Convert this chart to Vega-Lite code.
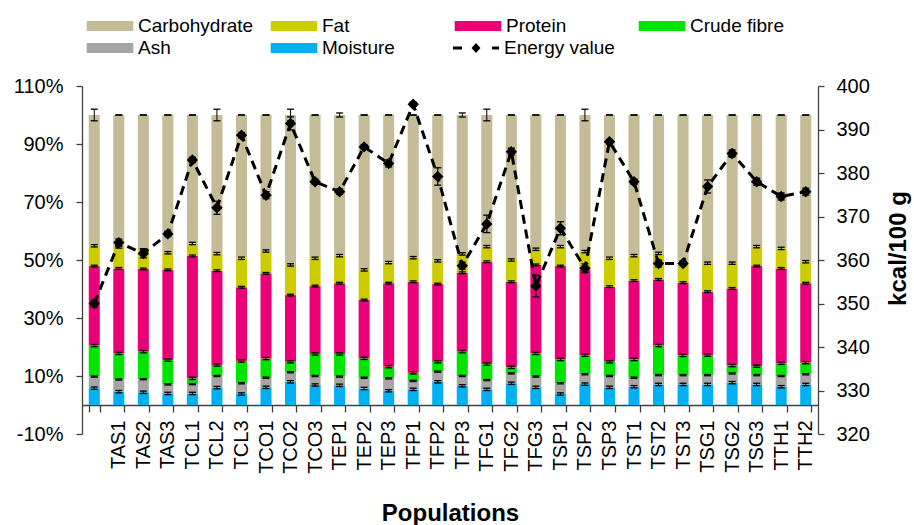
{
  "$schema": "https://vega.github.io/schema/vega-lite/v6.json",
  "width": 736,
  "height": 348,
  "autosize": {"type": "none"},
  "padding": {"left": 82, "top": 86, "right": 96, "bottom": 91},
  "background": "white",
  "config": {
    "font": "Liberation Sans",
    "view": {"stroke": null},
    "axis": {"grid": false, "domainColor": "#404040", "tickColor": "#404040", "labelColor": "#000000", "titleColor": "#000000", "domainWidth": 1.3, "tickWidth": 1.3, "labelFont": "Liberation Sans", "titleFont": "Liberation Sans"},
    "legend": {"labelFont": "Liberation Sans", "labelColor": "#000000"}
  },
  "datasets": {
    "comp": [
      {"p":"","c":"Moisture","v":5.8,"e":0.4},{"p":"","c":"Ash","v":4.0,"e":0.2},{"p":"","c":"Crude fibre","v":10.7,"e":0.4},{"p":"","c":"Protein","v":27.4,"e":0.3},{"p":"","c":"Fat","v":7.0,"e":0.4},{"p":"","c":"Carbohydrate","v":45.1,"e":2.0},
      {"p":"TAS1","c":"Moisture","v":4.6,"e":0.4},{"p":"TAS1","c":"Ash","v":4.2,"e":0.2},{"p":"TAS1","c":"Crude fibre","v":9.0,"e":0.4},{"p":"TAS1","c":"Protein","v":29.3,"e":0.3},{"p":"TAS1","c":"Fat","v":7.4,"e":0.4},{"p":"TAS1","c":"Carbohydrate","v":45.5,"e":0},
      {"p":"TAS2","c":"Moisture","v":4.4,"e":0.4},{"p":"TAS2","c":"Ash","v":4.5,"e":0.2},{"p":"TAS2","c":"Crude fibre","v":9.5,"e":0.4},{"p":"TAS2","c":"Protein","v":28.5,"e":0.3},{"p":"TAS2","c":"Fat","v":6.6,"e":0.4},{"p":"TAS2","c":"Carbohydrate","v":46.5,"e":0},
      {"p":"TAS3","c":"Moisture","v":4.0,"e":0.4},{"p":"TAS3","c":"Ash","v":3.1,"e":0.2},{"p":"TAS3","c":"Crude fibre","v":8.4,"e":0.4},{"p":"TAS3","c":"Protein","v":31.1,"e":0.3},{"p":"TAS3","c":"Fat","v":5.9,"e":0.4},{"p":"TAS3","c":"Carbohydrate","v":47.5,"e":0},
      {"p":"TCL1","c":"Moisture","v":4.0,"e":0.4},{"p":"TCL1","c":"Ash","v":3.2,"e":0.2},{"p":"TCL1","c":"Crude fibre","v":2.0,"e":0.4},{"p":"TCL1","c":"Protein","v":42.2,"e":0.3},{"p":"TCL1","c":"Fat","v":4.3,"e":0.4},{"p":"TCL1","c":"Carbohydrate","v":44.3,"e":0},
      {"p":"TCL2","c":"Moisture","v":6.0,"e":0.4},{"p":"TCL2","c":"Ash","v":4.0,"e":0.2},{"p":"TCL2","c":"Crude fibre","v":3.8,"e":0.4},{"p":"TCL2","c":"Protein","v":32.5,"e":0.3},{"p":"TCL2","c":"Fat","v":5.9,"e":0.4},{"p":"TCL2","c":"Carbohydrate","v":47.8,"e":2.0},
      {"p":"TCL3","c":"Moisture","v":3.8,"e":0.4},{"p":"TCL3","c":"Ash","v":3.7,"e":0.2},{"p":"TCL3","c":"Crude fibre","v":7.7,"e":0.4},{"p":"TCL3","c":"Protein","v":25.4,"e":0.3},{"p":"TCL3","c":"Fat","v":10.0,"e":0.4},{"p":"TCL3","c":"Carbohydrate","v":49.4,"e":0},
      {"p":"TCO1","c":"Moisture","v":6.1,"e":0.4},{"p":"TCO1","c":"Ash","v":3.3,"e":0.2},{"p":"TCO1","c":"Crude fibre","v":6.6,"e":0.4},{"p":"TCO1","c":"Protein","v":29.4,"e":0.3},{"p":"TCO1","c":"Fat","v":7.7,"e":0.4},{"p":"TCO1","c":"Carbohydrate","v":46.9,"e":0},
      {"p":"TCO2","c":"Moisture","v":8.0,"e":0.4},{"p":"TCO2","c":"Ash","v":3.3,"e":0.2},{"p":"TCO2","c":"Crude fibre","v":3.6,"e":0.4},{"p":"TCO2","c":"Protein","v":23.0,"e":0.3},{"p":"TCO2","c":"Fat","v":10.4,"e":0.4},{"p":"TCO2","c":"Carbohydrate","v":51.7,"e":2.0},
      {"p":"TCO3","c":"Moisture","v":6.9,"e":0.4},{"p":"TCO3","c":"Ash","v":3.1,"e":0.2},{"p":"TCO3","c":"Crude fibre","v":7.6,"e":0.4},{"p":"TCO3","c":"Protein","v":23.4,"e":0.3},{"p":"TCO3","c":"Fat","v":9.6,"e":0.4},{"p":"TCO3","c":"Carbohydrate","v":49.4,"e":0},
      {"p":"TEP1","c":"Moisture","v":6.8,"e":0.4},{"p":"TEP1","c":"Ash","v":3.0,"e":0.2},{"p":"TEP1","c":"Crude fibre","v":7.8,"e":0.4},{"p":"TEP1","c":"Protein","v":24.4,"e":0.3},{"p":"TEP1","c":"Fat","v":9.5,"e":0.4},{"p":"TEP1","c":"Carbohydrate","v":48.5,"e":0.7},
      {"p":"TEP2","c":"Moisture","v":5.7,"e":0.4},{"p":"TEP2","c":"Ash","v":3.7,"e":0.2},{"p":"TEP2","c":"Crude fibre","v":6.7,"e":0.4},{"p":"TEP2","c":"Protein","v":20.1,"e":0.3},{"p":"TEP2","c":"Fat","v":10.4,"e":0.4},{"p":"TEP2","c":"Carbohydrate","v":53.4,"e":0},
      {"p":"TEP3","c":"Moisture","v":4.9,"e":0.4},{"p":"TEP3","c":"Ash","v":4.3,"e":0.2},{"p":"TEP3","c":"Crude fibre","v":4.0,"e":0.4},{"p":"TEP3","c":"Protein","v":28.8,"e":0.3},{"p":"TEP3","c":"Fat","v":7.1,"e":0.4},{"p":"TEP3","c":"Carbohydrate","v":50.9,"e":0},
      {"p":"TFP1","c":"Moisture","v":5.4,"e":0.4},{"p":"TFP1","c":"Ash","v":2.9,"e":0.2},{"p":"TFP1","c":"Crude fibre","v":2.8,"e":0.4},{"p":"TFP1","c":"Protein","v":31.4,"e":0.3},{"p":"TFP1","c":"Fat","v":8.3,"e":0.4},{"p":"TFP1","c":"Carbohydrate","v":49.2,"e":0},
      {"p":"TFP2","c":"Moisture","v":8.0,"e":0.4},{"p":"TFP2","c":"Ash","v":3.5,"e":0.2},{"p":"TFP2","c":"Crude fibre","v":3.4,"e":0.4},{"p":"TFP2","c":"Protein","v":26.8,"e":0.3},{"p":"TFP2","c":"Fat","v":8.0,"e":0.4},{"p":"TFP2","c":"Carbohydrate","v":50.3,"e":0},
      {"p":"TFP3","c":"Moisture","v":6.6,"e":0.4},{"p":"TFP3","c":"Ash","v":3.4,"e":0.2},{"p":"TFP3","c":"Crude fibre","v":8.4,"e":0.4},{"p":"TFP3","c":"Protein","v":27.2,"e":0.3},{"p":"TFP3","c":"Fat","v":6.5,"e":0.4},{"p":"TFP3","c":"Carbohydrate","v":47.9,"e":0.7},
      {"p":"TFG1","c":"Moisture","v":5.4,"e":0.4},{"p":"TFG1","c":"Ash","v":3.2,"e":0.2},{"p":"TFG1","c":"Crude fibre","v":5.5,"e":0.4},{"p":"TFG1","c":"Protein","v":35.3,"e":0.3},{"p":"TFG1","c":"Fat","v":5.2,"e":0.4},{"p":"TFG1","c":"Carbohydrate","v":45.4,"e":2.0},
      {"p":"TFG2","c":"Moisture","v":7.5,"e":0.4},{"p":"TFG2","c":"Ash","v":3.4,"e":0.2},{"p":"TFG2","c":"Crude fibre","v":2.1,"e":0.4},{"p":"TFG2","c":"Protein","v":29.5,"e":0.3},{"p":"TFG2","c":"Fat","v":7.5,"e":0.4},{"p":"TFG2","c":"Carbohydrate","v":50.0,"e":0},
      {"p":"TFG3","c":"Moisture","v":6.1,"e":0.4},{"p":"TFG3","c":"Ash","v":3.7,"e":0.2},{"p":"TFG3","c":"Crude fibre","v":8.0,"e":0.4},{"p":"TFG3","c":"Protein","v":30.5,"e":0.3},{"p":"TFG3","c":"Fat","v":5.4,"e":0.4},{"p":"TFG3","c":"Carbohydrate","v":46.3,"e":0},
      {"p":"TSP1","c":"Moisture","v":3.8,"e":0.4},{"p":"TSP1","c":"Ash","v":3.7,"e":0.2},{"p":"TSP1","c":"Crude fibre","v":8.2,"e":0.4},{"p":"TSP1","c":"Protein","v":32.2,"e":0.3},{"p":"TSP1","c":"Fat","v":6.7,"e":0.4},{"p":"TSP1","c":"Carbohydrate","v":45.4,"e":0},
      {"p":"TSP2","c":"Moisture","v":7.2,"e":0.4},{"p":"TSP2","c":"Ash","v":3.4,"e":0.2},{"p":"TSP2","c":"Crude fibre","v":6.6,"e":0.4},{"p":"TSP2","c":"Protein","v":29.4,"e":0.3},{"p":"TSP2","c":"Fat","v":6.3,"e":0.4},{"p":"TSP2","c":"Carbohydrate","v":47.1,"e":2.0},
      {"p":"TSP3","c":"Moisture","v":6.1,"e":0.4},{"p":"TSP3","c":"Ash","v":3.9,"e":0.2},{"p":"TSP3","c":"Crude fibre","v":4.9,"e":0.4},{"p":"TSP3","c":"Protein","v":25.9,"e":0.3},{"p":"TSP3","c":"Fat","v":9.8,"e":0.4},{"p":"TSP3","c":"Carbohydrate","v":49.4,"e":0},
      {"p":"TST1","c":"Moisture","v":6.3,"e":0.4},{"p":"TST1","c":"Ash","v":3.1,"e":0.2},{"p":"TST1","c":"Crude fibre","v":6.3,"e":0.4},{"p":"TST1","c":"Protein","v":27.2,"e":0.3},{"p":"TST1","c":"Fat","v":8.6,"e":0.4},{"p":"TST1","c":"Carbohydrate","v":48.5,"e":0},
      {"p":"TST2","c":"Moisture","v":7.1,"e":0.4},{"p":"TST2","c":"Ash","v":3.2,"e":0.2},{"p":"TST2","c":"Crude fibre","v":10.2,"e":0.4},{"p":"TST2","c":"Protein","v":22.8,"e":0.3},{"p":"TST2","c":"Fat","v":9.0,"e":0.4},{"p":"TST2","c":"Carbohydrate","v":47.7,"e":0},
      {"p":"TST3","c":"Moisture","v":7.1,"e":0.4},{"p":"TST3","c":"Ash","v":3.2,"e":0.2},{"p":"TST3","c":"Crude fibre","v":6.8,"e":0.4},{"p":"TST3","c":"Protein","v":25.1,"e":0.3},{"p":"TST3","c":"Fat","v":6.9,"e":0.4},{"p":"TST3","c":"Carbohydrate","v":50.9,"e":0},
      {"p":"TSG1","c":"Moisture","v":7.1,"e":0.4},{"p":"TSG1","c":"Ash","v":3.2,"e":0.2},{"p":"TSG1","c":"Crude fibre","v":6.9,"e":0.4},{"p":"TSG1","c":"Protein","v":21.9,"e":0.3},{"p":"TSG1","c":"Fat","v":9.8,"e":0.4},{"p":"TSG1","c":"Carbohydrate","v":51.1,"e":0},
      {"p":"TSG2","c":"Moisture","v":7.7,"e":0.4},{"p":"TSG2","c":"Ash","v":3.2,"e":0.2},{"p":"TSG2","c":"Crude fibre","v":2.7,"e":0.4},{"p":"TSG2","c":"Protein","v":26.6,"e":0.3},{"p":"TSG2","c":"Fat","v":8.7,"e":0.4},{"p":"TSG2","c":"Carbohydrate","v":51.1,"e":0},
      {"p":"TSG3","c":"Moisture","v":7.1,"e":0.4},{"p":"TSG3","c":"Ash","v":3.2,"e":0.2},{"p":"TSG3","c":"Crude fibre","v":3.1,"e":0.4},{"p":"TSG3","c":"Protein","v":34.5,"e":0.3},{"p":"TSG3","c":"Fat","v":6.7,"e":0.4},{"p":"TSG3","c":"Carbohydrate","v":45.4,"e":0},
      {"p":"TTH1","c":"Moisture","v":6.3,"e":0.4},{"p":"TTH1","c":"Ash","v":3.7,"e":0.2},{"p":"TTH1","c":"Crude fibre","v":4.4,"e":0.4},{"p":"TTH1","c":"Protein","v":32.7,"e":0.3},{"p":"TTH1","c":"Fat","v":6.9,"e":0.4},{"p":"TTH1","c":"Carbohydrate","v":46.0,"e":0},
      {"p":"TTH2","c":"Moisture","v":7.1,"e":0.4},{"p":"TTH2","c":"Ash","v":3.5,"e":0.2},{"p":"TTH2","c":"Crude fibre","v":4.0,"e":0.4},{"p":"TTH2","c":"Protein","v":27.4,"e":0.3},{"p":"TTH2","c":"Fat","v":7.4,"e":0.4},{"p":"TTH2","c":"Carbohydrate","v":50.6,"e":0}
    ],
    "energy": [
      {"p":"","E":350,"eE":0.8},{"p":"TAS1","E":364,"eE":0.8},{"p":"TAS2","E":361.5,"eE":1},{"p":"TAS3","E":366,"eE":0.6},
      {"p":"TCL1","E":383,"eE":0.6},{"p":"TCL2","E":372,"eE":1.5},{"p":"TCL3","E":388.7,"eE":0.6},
      {"p":"TCO1","E":374.9,"eE":0.8},{"p":"TCO2","E":391.4,"eE":1.5},{"p":"TCO3","E":378,"eE":0.6},
      {"p":"TEP1","E":375.7,"eE":0.6},{"p":"TEP2","E":386,"eE":0.5},{"p":"TEP3","E":382.2,"eE":0.8},
      {"p":"TFP1","E":395.8,"eE":0.5},{"p":"TFP2","E":379.2,"eE":2},{"p":"TFP3","E":358.7,"eE":0.8},
      {"p":"TFG1","E":368.3,"eE":2},{"p":"TFG2","E":384.9,"eE":0.8},{"p":"TFG3","E":354,"eE":2.5},
      {"p":"TSP1","E":367.3,"eE":1.5},{"p":"TSP2","E":358.1,"eE":1},{"p":"TSP3","E":387.2,"eE":0.5},
      {"p":"TST1","E":378,"eE":0.6},{"p":"TST2","E":359.2,"eE":0.8},{"p":"TST3","E":359.2,"eE":0.5},
      {"p":"TSG1","E":376.9,"eE":1.5},{"p":"TSG2","E":384.5,"eE":0.8},{"p":"TSG3","E":378,"eE":0.8},
      {"p":"TTH1","E":374.6,"eE":0.8},{"p":"TTH2","E":375.7,"eE":0.8}
    ]
  },
  "layer": [
    {
      "data": {"name": "comp"},
      "transform": [
        {"window": [{"op": "row_number", "as": "k"}], "groupby": ["p"]},
        {"stack": "v", "groupby": ["p"], "sort": [{"field": "k", "order": "ascending"}], "as": ["v0", "v1"]},
        {"calculate": "datum.v1 - datum.e", "as": "lo"},
        {"calculate": "datum.v1 + datum.e", "as": "hi"}
      ],
      "encoding": {
        "x": {
          "field": "p", "type": "nominal",
          "sort": ["","TAS1","TAS2","TAS3","TCL1","TCL2","TCL3","TCO1","TCO2","TCO3","TEP1","TEP2","TEP3","TFP1","TFP2","TFP3","TFG1","TFG2","TFG3","TSP1","TSP2","TSP3","TST1","TST2","TST3","TSG1","TSG2","TSG3","TTH1","TTH2"],
          "scale": {"paddingInner": 0.55, "paddingOuter": 0.275},
          "axis": {
            "title": "Populations", "titleFontSize": 24, "titleFontWeight": "bold",
            "titleBaseline": "alphabetic", "titleAlign": "center", "titleX": 368, "titleY": 115,
            "offset": -29, "labelAngle": -90, "labelAlign": "right", "labelBaseline": "middle",
            "labelFontSize": 20, "labelPadding": 8, "tickSize": 7, "tickBand": "extent", "labelOverlap": false
          }
        }
      },
      "layer": [
        {
          "mark": {"type": "bar"},
          "encoding": {
            "y": {"field": "v1", "type": "quantitative",
                  "scale": {"domain": [-10, 110], "nice": false, "zero": false},
                  "axis": {"orient": "left", "values": [-10, 10, 30, 50, 70, 90, 110], "labelExpr": "datum.value + '%'", "labelFontSize": 20, "tickSize": 6, "labelPadding": 13, "title": null}},
            "y2": {"field": "v0"},
            "fill": {
              "field": "c", "type": "nominal",
              "scale": {"domain": ["Carbohydrate", "Fat", "Protein", "Crude fibre", "Ash", "Moisture"],
                        "range": ["#C4BC96", "#CCCC00", "#EC0078", "#00E400", "#A6A6A6", "#00B0F0"]},
              "legend": {"title": null, "orient": "none", "legendX": 18, "legendY": -70, "columns": 4, "direction": "horizontal",
                         "symbolType": "M-2.33,-0.5H2.33V0.5H-2.33Z", "symbolSize": 400, "symbolStrokeWidth": 0, "symbolOpacity": 1,
                         "labelOffset": 18, "labelFontSize": 19, "columnPadding": 16, "rowPadding": 2, "gridAlign": "all", "padding": 0}
            }
          }
        },
        {
          "mark": {"type": "rule", "color": "black", "strokeWidth": 1},
          "encoding": {"y": {"field": "lo", "type": "quantitative"}, "y2": {"field": "hi"}}
        },
        {
          "mark": {"type": "tick", "color": "black", "size": 7, "thickness": 1.3, "opacity": 1},
          "encoding": {"y": {"field": "lo", "type": "quantitative"}}
        },
        {
          "mark": {"type": "tick", "color": "black", "size": 7, "thickness": 1.3, "opacity": 1},
          "encoding": {"y": {"field": "hi", "type": "quantitative"}}
        }
      ]
    },
    {
      "data": {"name": "energy"},
      "transform": [
        {"calculate": "datum.E - datum.eE", "as": "elo"},
        {"calculate": "datum.E + datum.eE", "as": "ehi"}
      ],
      "encoding": {
        "x": {
          "field": "p", "type": "nominal",
          "sort": ["","TAS1","TAS2","TAS3","TCL1","TCL2","TCL3","TCO1","TCO2","TCO3","TEP1","TEP2","TEP3","TFP1","TFP2","TFP3","TFG1","TFG2","TFG3","TSP1","TSP2","TSP3","TST1","TST2","TST3","TSG1","TSG2","TSG3","TTH1","TTH2"]
        }
      },
      "layer": [
        {
          "mark": {"type": "line", "color": "black", "strokeWidth": 3, "strokeDash": [9, 6]},
          "encoding": {
            "y": {"field": "E", "type": "quantitative",
                  "scale": {"domain": [320, 400], "nice": false, "zero": false},
                  "axis": {"orient": "right", "values": [320, 330, 340, 350, 360, 370, 380, 390, 400], "labelFontSize": 20, "tickSize": 6, "labelPadding": 12,
                           "title": "kcal/100 g", "titleFontSize": 24, "titleFontWeight": "bold", "titleAngle": 270,
                           "titleX": 80, "titleY": 162, "titleBaseline": "middle", "titleAlign": "center"}}
          }
        },
        {
          "mark": {"type": "rule", "color": "black", "strokeWidth": 1.2},
          "encoding": {"y": {"field": "elo", "type": "quantitative"}, "y2": {"field": "ehi"}}
        },
        {
          "mark": {"type": "tick", "color": "black", "size": 7, "thickness": 1.3, "opacity": 1},
          "encoding": {"y": {"field": "elo", "type": "quantitative"}}
        },
        {
          "mark": {"type": "tick", "color": "black", "size": 7, "thickness": 1.3, "opacity": 1},
          "encoding": {"y": {"field": "ehi", "type": "quantitative"}}
        },
        {
          "mark": {"type": "point", "shape": "diamond", "filled": true, "size": 130, "opacity": 1, "strokeWidth": 0},
          "encoding": {
            "y": {"field": "E", "type": "quantitative"},
            "fill": {"datum": "Energy value", "type": "nominal", "scale": {"range": ["#000000"]},
                     "legend": {"title": null, "orient": "none", "legendX": 384, "legendY": -48,
                                "symbolType": "M-2.3,-0.15H-1.4V0.15H-2.3Z M1.6,-0.15H2.3V0.15H1.6Z M-0.45,0L0,-0.5L0.45,0L0,0.5Z",
                                "symbolSize": 400, "symbolStrokeWidth": 0, "symbolOpacity": 1,
                                "labelOffset": 18, "labelFontSize": 19, "padding": 0}}
          }
        }
      ]
    }
  ],
  "resolve": {"scale": {"y": "independent", "fill": "independent"}}
}
